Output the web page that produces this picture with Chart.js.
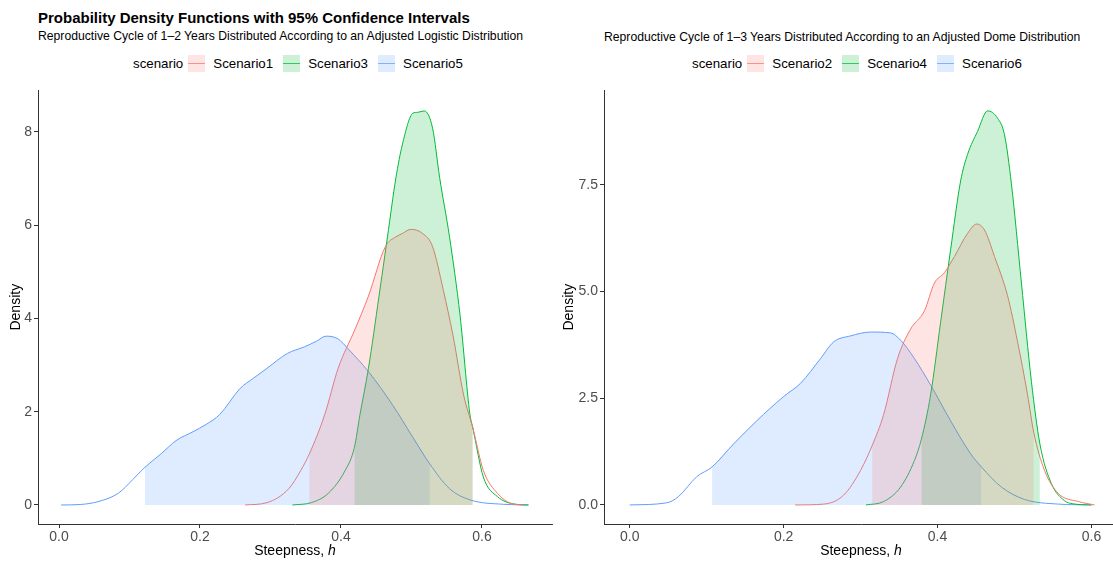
<!DOCTYPE html>
<html>
<head>
<meta charset="utf-8">
<script src="https://cdn.jsdelivr.net/npm/chart.js@4.4.0/dist/chart.umd.min.js"></script>
<style>
    html, body { margin: 0; padding: 0; background: #fff; overflow: hidden; }
    body { width: 1113px; height: 563px; position: relative; font-family: "Liberation Sans", Arial, sans-serif; color: #000; }
    .txt { position: absolute; white-space: nowrap; }
    .title { font-weight: bold; font-size: 15px; line-height: 15px; }
    .sub { font-size: 12.2px; line-height: 12px; }
    .legend { position: absolute; display: flex; align-items: center; height: 17px; font-size: 13.3px; white-space: nowrap; }
    .legend .key { position: relative; width: 17px; height: 17px; margin: 0 8px 0 0; }
    .legend .key span { position: absolute; left: 0; right: 0; top: 8px; height: 1px; }
    .legend .lab { margin-right: 10px; }
    .xtitle { font-size: 14px; line-height: 14px; width: 200px; text-align: center; }
    canvas { position: absolute; }
</style>
</head>
<body>
<div class="txt title" style="left:38px; top:10px;">Probability Density Functions with 95% Confidence Intervals</div>
<div class="txt sub" style="left:38px; top:30px;">Reproductive Cycle of 1–2 Years Distributed According to an Adjusted Logistic Distribution</div>
<div class="txt sub" style="left:604px; top:31px;">Reproductive Cycle of 1–3 Years Distributed According to an Adjusted Dome Distribution</div>
<div class="legend" id="legendLeft" style="left:133px; top:55px;"></div>
<div class="legend" id="legendRight" style="left:692px; top:55px;"></div>
<div style="position:absolute; left:0; top:80px; width:556px; height:483px;"><canvas id="chartLeft"></canvas></div>
<div style="position:absolute; left:556px; top:80px; width:570px; height:483px;"><canvas id="chartRight"></canvas></div>
<div class="txt xtitle" style="left:195px; top:543px;">Steepness, <i>h</i></div>
<div class="txt xtitle" style="left:761px; top:543px;">Steepness, <i>h</i></div>

<script>
// ====== Data ======
// Left panel: logistic distribution (Scenario1, 3, 5)
const s1H = [0.264, 0.295, 0.326, 0.343, 0.355, 0.377, 0.396, 0.420, 0.439, 0.463, 0.478, 0.487, 0.499, 0.516, 0.530, 0.545, 0.559, 0.574, 0.587, 0.602, 0.622, 0.641, 0.660];
const s1D = [0, 0.05, 0.35, 0.74, 1.09, 1.94, 2.93, 3.77, 4.48, 5.54, 5.75, 5.82, 5.91, 5.82, 5.54, 4.62, 3.63, 2.36, 1.66, 0.74, 0.25, 0.035, 0];
const s1CI = [0.355, 0.587];

const s3H = [0.331, 0.358, 0.382, 0.406, 0.419, 0.427, 0.439, 0.454, 0.466, 0.478, 0.487, 0.502, 0.509, 0.518, 0.530, 0.540, 0.554, 0.569, 0.583, 0.587, 0.602, 0.622, 0.646, 0.666];
const s3D = [0, 0.05, 0.25, 0.74, 1.23, 1.94, 2.93, 4.48, 5.75, 7.02, 7.72, 8.40, 8.42, 8.45, 8.08, 7.02, 5.75, 4.06, 1.94, 1.66, 0.60, 0.18, 0.02, 0];
const s3CI = [0.419, 0.587];

const s5H = [0.003, 0.030, 0.055, 0.084, 0.105, 0.122, 0.145, 0.166, 0.190, 0.209, 0.228, 0.257, 0.276, 0.295, 0.324, 0.348, 0.365, 0.379, 0.396, 0.410, 0.439, 0.473, 0.502, 0.526, 0.554, 0.583, 0.631, 0.666];
const s5D = [0, 0.01, 0.07, 0.25, 0.55, 0.81, 1.10, 1.38, 1.57, 1.73, 1.94, 2.50, 2.72, 2.93, 3.25, 3.39, 3.51, 3.62, 3.56, 3.35, 2.86, 2.15, 1.45, 0.88, 0.35, 0.11, 0.014, 0];
const s5CI = [0.122, 0.526];

// Right panel: dome distribution (Scenario2, 4, 6)
const s2H = [0.215, 0.252, 0.278, 0.300, 0.315, 0.330, 0.348, 0.365, 0.383, 0.396, 0.409, 0.422, 0.439, 0.451, 0.461, 0.474, 0.491, 0.504, 0.517, 0.525, 0.539, 0.557, 0.583, 0.604];
const s2D = [0, 0.02, 0.23, 0.81, 1.39, 2.12, 3.43, 4.12, 4.55, 5.20, 5.44, 5.82, 6.36, 6.58, 6.44, 5.82, 4.90, 3.82, 2.58, 1.70, 0.81, 0.27, 0.08, 0];
const s2CI = [0.315, 0.525];

const s4H = [0.307, 0.330, 0.352, 0.370, 0.379, 0.391, 0.404, 0.417, 0.430, 0.439, 0.452, 0.465, 0.478, 0.487, 0.496, 0.509, 0.522, 0.533, 0.548, 0.565, 0.575, 0.600];
const s4D = [0, 0.08, 0.42, 1.04, 1.54, 2.58, 4.28, 5.98, 7.59, 8.21, 8.75, 9.23, 9.06, 8.67, 7.52, 5.20, 2.89, 1.43, 0.50, 0.10, 0.03, 0];
const s4CI = [0.379, 0.533];

const s6H = [0.000, 0.048, 0.063, 0.087, 0.107, 0.135, 0.165, 0.200, 0.222, 0.248, 0.265, 0.287, 0.313, 0.339, 0.352, 0.370, 0.391, 0.417, 0.443, 0.457, 0.483, 0.513, 0.557, 0.600];
const s6D = [0, 0.05, 0.19, 0.66, 0.89, 1.43, 1.97, 2.54, 2.85, 3.43, 3.82, 3.96, 4.05, 4.03, 3.86, 3.43, 2.81, 1.97, 1.20, 0.89, 0.42, 0.13, 0.02, 0];
const s6CI = [0.107, 0.457];

// ---- Axis ticks ----
const xTicks = [0, 0.2, 0.4, 0.6];
const yTicksLeft = [0, 2, 4, 6, 8];
const yTicksRight = [0, 2.5, 5, 7.5];

// ggplot default hues
const RED = [248, 118, 109], GREEN = [0, 186, 56], BLUE = [97, 156, 255];
const rgba = (c, a) => `rgba(${c[0]}, ${c[1]}, ${c[2]}, ${a})`;

Chart.defaults.font.family = '"Liberation Sans", Arial, sans-serif';

// ---- Build line + CI fill datasets for one scenario ----
function scenarioSets(hs, ds, ci, col) {
    const pts = hs.map((h, i) => ({x: h, y: ds[i]}));
    const ciPts = pts.filter(p => p.x >= ci[0] - 1e-9 && p.x <= ci[1] + 1e-9);
    return {
        fill: {
            data: ciPts,
            borderWidth: 0,
            backgroundColor: rgba(col, 0.2),
            fill: 'origin',
            pointRadius: 0,
            cubicInterpolationMode: 'monotone'
        },
        line: {
            data: pts,
            borderColor: rgba(col, 1),
            borderWidth: 1,
            fill: false,
            pointRadius: 0,
            cubicInterpolationMode: 'monotone'
        }
    };
}

function drawPanel(id, scenarios, xr, yr, yTicks, yFmt, yAxisW, titlePad, padRight) {
    const sets = scenarios.map(s => scenarioSets(s[0], s[1], s[2], s[3]));
    const datasets = sets.map(s => s.fill).concat(sets.map(s => s.line));
    const axisCommon = {
        type: 'linear',
        grid: {drawOnChartArea: false, drawTicks: true, tickLength: 4, tickColor: '#333', color: '#333'},
        border: {color: '#333', width: 1}
    };
    new Chart(document.getElementById(id), {
        type: 'line',
        data: {datasets},
        options: {
            responsive: true,
            maintainAspectRatio: false,
            animation: false,
            events: [],
            layout: {padding: {top: 5, right: padRight, left: 0, bottom: 0}},
            plugins: {legend: {display: false}, tooltip: {enabled: false}},
            scales: {
                x: Object.assign({}, axisCommon, {
                    min: xr[0], max: xr[1],
                    afterBuildTicks: scale => { scale.ticks = xTicks.map(v => ({value: v})); },
                    afterFit: scale => { scale.height = 39; },
                    ticks: {padding: 1, color: '#4D4D4D', font: {size: 14}, maxRotation: 0, callback: v => v.toFixed(1)}
                }),
                y: Object.assign({}, axisCommon, {
                    min: yr[0], max: yr[1],
                    afterBuildTicks: scale => { scale.ticks = yTicks.map(v => ({value: v})); },
                    afterFit: scale => { scale.width = yAxisW; },
                    ticks: {padding: 2, color: '#4D4D4D', font: {size: 14}, callback: yFmt},
                    title: {display: true, text: 'Density', color: '#000', font: {size: 14}, padding: {top: titlePad, bottom: 0}}
                })
            }
        }
    });
}

function drawLegend(id, names, cols) {
    const el = document.getElementById(id);
    let html = '<span style="margin-right:5px">scenario</span>';
    names.forEach((n, i) => {
        html += `<span class="key" style="background:${rgba(cols[i], 0.2)}"><span style="background:${rgba(cols[i], 0.75)}"></span></span>`;
        html += `<span class="lab">${n}</span>`;
    });
    el.innerHTML = html;
}

drawLegend('legendLeft', ['Scenario1', 'Scenario3', 'Scenario5'], [RED, GREEN, BLUE]);
drawLegend('legendRight', ['Scenario2', 'Scenario4', 'Scenario6'], [RED, GREEN, BLUE]);

drawPanel('chartLeft',
    [[s1H, s1D, s1CI, RED], [s3H, s3D, s3CI, GREEN], [s5H, s5D, s5CI, BLUE]],
    [-0.0298, 0.6994], [-0.408, 8.89], yTicksLeft, v => String(v), 38, 7.6, 4);

drawPanel('chartRight',
    [[s2H, s2D, s2CI, RED], [s4H, s4D, s4CI, GREEN], [s6H, s6D, s6CI, BLUE]],
    [-0.0334, 0.6345], [-0.446, 9.71], yTicksRight, v => v.toFixed(1), 48, 4.6, 8);
</script>
</body>
</html>
